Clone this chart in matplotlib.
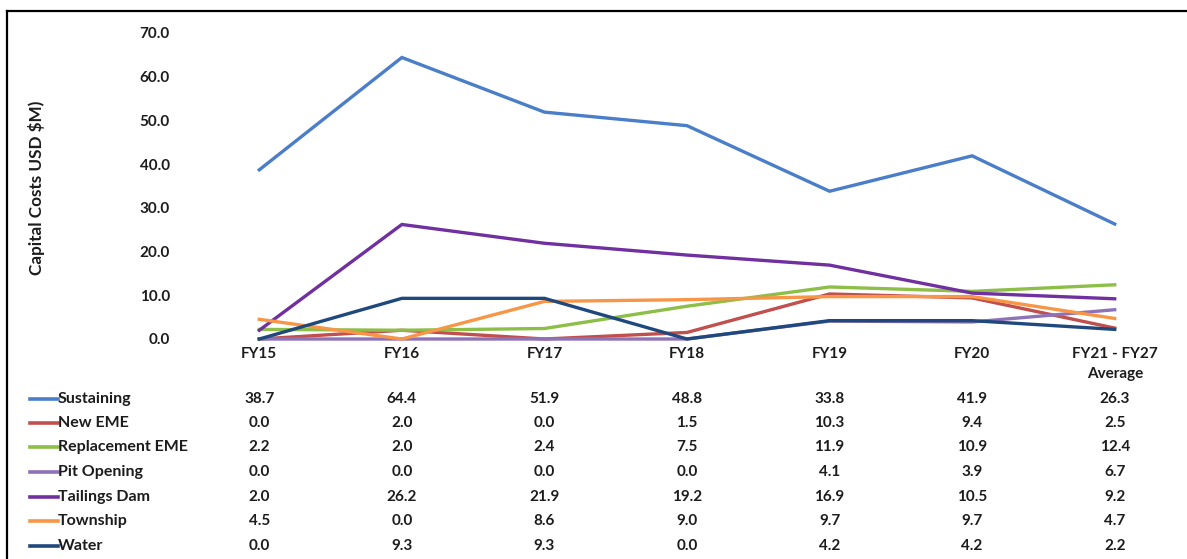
import matplotlib
matplotlib.use("Agg")
import matplotlib.pyplot as plt
from matplotlib.lines import Line2D

W, H = 1187, 559
DPI = 100

categories = ["FY15", "FY16", "FY17", "FY18", "FY19", "FY20", "FY21 - FY27\nAverage"]
series_names = ["Sustaining", "New EME", "Replacement EME", "Pit Opening",
                "Tailings Dam", "Township", "Water"]
sustaining = [38.7, 64.4, 51.9, 48.8, 33.8, 41.9, 26.3]
new_eme = [0.0, 2.0, 0.0, 1.5, 10.3, 9.4, 2.5]
replacement_eme = [2.2, 2.0, 2.4, 7.5, 11.9, 10.9, 12.4]
pit_opening = [0.0, 0.0, 0.0, 0.0, 4.1, 3.9, 6.7]
tailings_dam = [2.0, 26.2, 21.9, 19.2, 16.9, 10.5, 9.2]
township = [4.5, 0.0, 8.6, 9.0, 9.7, 9.7, 4.7]
water = [0.0, 9.3, 9.3, 0.0, 4.2, 4.2, 2.2]
yticks = [0, 10, 20, 30, 40, 50, 60, 70]

series_values = [sustaining, new_eme, replacement_eme, pit_opening,
                 tailings_dam, township, water]
colors = ["#4A7EC8", "#C0504D", "#8DBE47", "#8E72B8", "#7030A0", "#F79646", "#1F497D"]

plt.rcParams['font.family'] = ['Lato', 'DejaVu Sans']
plt.rcParams['font.weight'] = 'bold'
TXT = "#1c1c1c"
FS = 11

fig = plt.figure(figsize=(W / DPI, H / DPI), dpi=DPI)
fig.patch.set_facecolor("white")

def fx(px):
    return px / W

def fy(py):
    return 1 - py / H

ax_left, ax_right = 188, 1186
ax_top, ax_bottom = 33, 339
ax = fig.add_axes([fx(ax_left), fy(ax_bottom), fx(ax_right - ax_left), (ax_bottom - ax_top) / H])
ax.set_facecolor("none")
x = list(range(len(categories)))
for name, vals, c in zip(series_names, series_values, colors):
    ax.plot(x, vals, color=c, lw=2.4, clip_on=False, solid_joinstyle="miter", zorder=3)

ax.set_xlim(-0.5, len(categories) - 0.5)
ax.set_ylim(0, 70)
ax.set_yticks(yticks)
ax.set_yticklabels([f"{v:.1f}" for v in yticks], fontsize=FS, fontweight="bold", color=TXT)
ax.set_xticks([])
for s in ax.spines.values():
    s.set_visible(False)
ax.tick_params(axis="y", length=0, pad=13)

fig.text(fx(37), fy(188), "Capital Costs USD $M)", rotation=90, ha="center", va="center",
         fontsize=12.3, fontweight="bold", color=TXT)

def ax_y(py):
    return (ax_bottom - py) / (ax_bottom - ax_top)

trans = ax.get_xaxis_transform()
for i, cat in enumerate(categories):
    if "\n" in cat:
        ax.text(i, ax_y(364), cat, transform=trans, ha="center", va="center",
                fontsize=FS, fontweight="bold", color=TXT, linespacing=1.55, clip_on=False)
    else:
        ax.text(i, ax_y(354), cat, transform=trans, ha="center", va="center",
                fontsize=FS, fontweight="bold", color=TXT, clip_on=False)

row_y = [399, 423, 447, 472, 497, 521, 546]
for name, vals, c, ry in zip(series_names, series_values, colors, row_y):
    fig.add_artist(Line2D([fx(30), fx(58)], [fy(ry), fy(ry)], color=c, lw=2.6))
    fig.text(fx(58), fy(ry), name, ha="left", va="center", fontsize=FS + 0.5,
             fontweight="bold", color=TXT)
    for i, v in enumerate(vals):
        ax.text(i, ax_y(ry), f"{v:.1f}", transform=trans, ha="center", va="center",
                fontsize=FS, fontweight="bold", color=TXT, clip_on=False)

fig.add_artist(Line2D([fx(7), fx(W + 5)], [fy(11), fy(11)], color="black", lw=1.6))
fig.add_artist(Line2D([fx(7), fx(7)], [fy(11), fy(H + 5)], color="black", lw=1.6))

fig.savefig("out.png", dpi=DPI)
